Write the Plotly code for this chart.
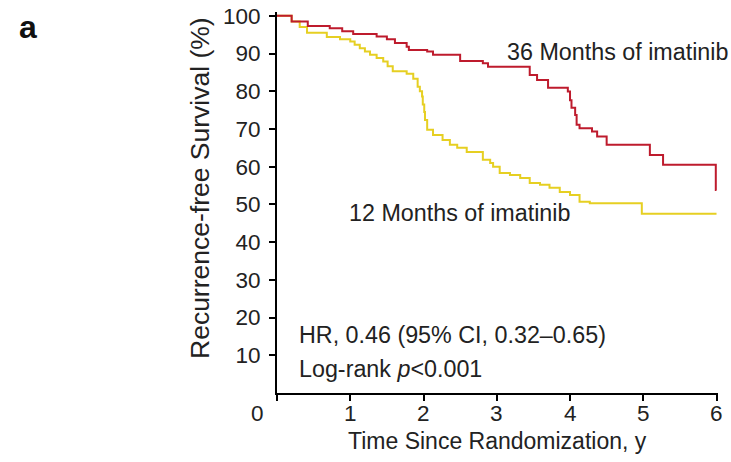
import plotly.graph_objects as go

# Kaplan-Meier step data
t36 = [0, 0.20, 0.42, 0.72, 0.89, 1.04, 1.36, 1.50, 1.61, 1.77, 1.80, 2.05, 2.13, 2.50, 2.81, 2.88,
       3.45, 3.55, 3.70, 3.97, 4.00, 4.02, 4.07, 4.09, 4.13, 4.30, 4.37, 4.50, 5.09, 5.27, 5.99, 6.0]
s36 = [100, 98.5, 97.3, 96.7, 95.9, 95.2, 94.5, 93.8, 92.8, 91.8, 90.9, 90.5, 89.7, 88.0, 87.4, 86.5,
       84.3, 83.0, 80.9, 79.9, 77.6, 75.6, 73.7, 71.1, 70.2, 69.3, 68.0, 65.8, 63.1, 60.5, 53.8, 53.8]

t12 = [0, 0.20, 0.31, 0.41, 0.68, 0.86, 1.00, 1.06, 1.13, 1.20, 1.27, 1.36, 1.45, 1.51, 1.58, 1.77,
       1.86, 1.92, 1.95, 1.98, 1.99, 2.01, 2.02, 2.05, 2.13, 2.26, 2.36, 2.46, 2.59, 2.81, 2.91, 2.95,
       3.04, 3.18, 3.32, 3.45, 3.59, 3.72, 3.86, 4.00, 4.13, 4.27, 4.98, 6.0]
s12 = [100, 98.5, 97.0, 95.5, 94.4, 93.8, 93.2, 92.3, 91.4, 90.5, 89.7, 88.8, 87.9, 86.6, 85.3, 84.6,
       83.3, 81.2, 80.0, 78.6, 76.5, 74.5, 72.4, 69.8, 68.4, 67.1, 65.8, 65.0, 63.9, 61.8, 61.0, 60.0,
       58.3, 57.8, 57.0, 55.7, 55.2, 54.4, 53.3, 52.5, 50.7, 50.3, 47.5, 47.5]

x_ticks = [0, 1, 2, 3, 4, 5, 6]
x_ticktext = ["", "1", "2", "3", "4", "5", "6"]
y_ticks = [10, 20, 30, 40, 50, 60, 70, 80, 90, 100]

FONT = "Liberation Sans, Arial, sans-serif"
TXT = "#222222"
RED = "#BE1B2D"
YEL = "#E6CF22"

fig = go.Figure()
fig.add_trace(go.Scatter(x=t12, y=s12, mode="lines", line=dict(color=YEL, width=2, shape="hv"),
                         showlegend=False, hoverinfo="skip"))
fig.add_trace(go.Scatter(x=t36, y=s36, mode="lines", line=dict(color=RED, width=2, shape="hv"),
                         showlegend=False, hoverinfo="skip"))

W, H = 731, 462
# plot area in window pixels: x 277..718, y 12..393
L, T = 277, 12
R = W - 718
B = H - 393

fig.update_layout(
    width=W, height=H,
    margin=dict(l=L, r=R, t=T, b=B, pad=0, autoexpand=False),
    paper_bgcolor="white", plot_bgcolor="white",
    font=dict(family=FONT, color=TXT, size=22.5),
    xaxis=dict(range=[0, 6.02], tickvals=x_ticks, showticklabels=False, showline=True,
               linecolor="black", linewidth=2, ticks="outside", ticklen=6, tickwidth=1.5,
               tickcolor="black", showgrid=False, zeroline=False, automargin=False),
    yaxis=dict(range=[0, 101], tickvals=y_ticks, showline=True, linecolor="black", linewidth=2,
               ticks="outside", ticklen=6, tickwidth=1.5, tickcolor="black", showgrid=False,
               zeroline=False, automargin=False, tickfont=dict(size=22.5), ticklabelstandoff=4,
               ticklabeloverflow="allow"),
)


def px(x, y):
    """window pixel -> paper coords"""
    return (x - L) / (W - L - R), 1 - (y - T) / (H - T - B)


# x tick labels placed on the x axis scale
_, ty = px(0, 414)
for v, s in zip(x_ticks, x_ticktext):
    if s:
        fig.add_annotation(text=s, xref="x", yref="paper", x=v, y=ty, xanchor="center",
                           yanchor="middle", showarrow=False,
                           font=dict(size=22.5, family=FONT, color=TXT))

ann = [
    dict(text="36 Months of imatinib", x=505, y=52),
    dict(text="12 Months of imatinib", x=347, y=213),
    dict(text="HR, 0.46 (95% CI, 0.32–0.65)", x=297, y=335),
    dict(text="Log-rank <i>p</i><0.001", x=297, y=369),
]
for a in ann:
    xx, yy = px(a["x"], a["y"])
    fig.add_annotation(text=a["text"], xref="paper", yref="paper", x=xx, y=yy,
                       xanchor="left", yanchor="middle", showarrow=False,
                       font=dict(size=23.3, family=FONT, color=TXT))

xx, yy = px(257, 414)
fig.add_annotation(text="0", xref="paper", yref="paper", x=xx, y=yy,
                   xanchor="center", yanchor="middle", showarrow=False,
                   font=dict(size=22.5, family=FONT, color=TXT))
xx, yy = px(28, 27)
fig.add_annotation(text="<b>a</b>", xref="paper", yref="paper", x=xx, y=yy,
                   xanchor="center", yanchor="middle", showarrow=False,
                   font=dict(size=32, family=FONT, color="#111111"))
xx, yy = px(497, 441)
fig.add_annotation(text="Time Since Randomization, y", xref="paper", yref="paper", x=xx, y=yy,
                   xanchor="center", yanchor="middle", showarrow=False,
                   font=dict(size=23, family=FONT, color=TXT))
xx, yy = px(200, 188)
fig.add_annotation(text="Recurrence-free Survival (%)", xref="paper", yref="paper", x=xx, y=yy,
                   xanchor="center", yanchor="middle", showarrow=False, textangle=-90,
                   font=dict(size=26.5, family=FONT, color=TXT))

fig.write_html("out.html", config={"displayModeBar": False},
               post_script="document.body.style.margin='0';document.body.style.padding='0';")
